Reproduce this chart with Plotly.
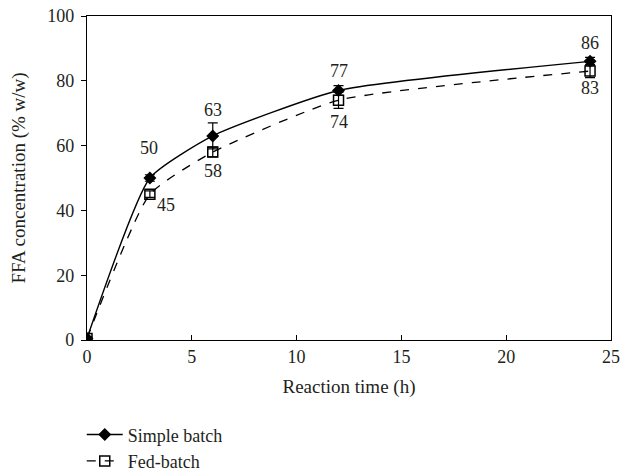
import plotly.graph_objects as go

# Reaction time (h) and FFA concentration (% w/w)
time_h = [0, 3, 6, 12, 24]
simple_batch = [0.5, 50, 63, 77, 86]
simple_err = [0.5, 1.0, 4.0, 1.5, 1.2]
fed_batch = [0.5, 45, 58, 74, 83]
fed_err = [0.5, 1.0, 1.5, 2.5, 2.0]

simple_labels = ["", "50", "63", "77", "86"]
fed_labels = ["", "45", "58", "74", "83"]

# pixel offsets of the value labels from their points (x, y)
simple_offsets = [(0, 0), (-1, 30), (0, 26), (0, 20), (0, 18)]
fed_offsets = [(0, 0), (16, -11), (0, -19), (0, -22), (0, -17)]

FONT = "Liberation Serif"
INK = "#231f20"
FS = 18

fig = go.Figure()

fig.add_trace(go.Scatter(
    x=time_h, y=simple_batch, name="Simple batch", mode="lines+markers",
    line=dict(color="black", width=1.4, shape="spline", smoothing=0.5),
    marker=dict(symbol="diamond", size=10, color="black"),
    error_y=dict(type="data", array=simple_err, color="black", thickness=1.2, width=5),
))
fig.add_trace(go.Scatter(
    x=time_h, y=fed_batch, name="Fed-batch", mode="lines+markers",
    line=dict(color="black", width=1.3, dash="dash", shape="spline", smoothing=0.5),
    marker=dict(symbol="square-open", size=10, color="black", line=dict(width=1.5)),
    error_y=dict(type="data", array=fed_err, color="black", thickness=1.2, width=5),
))

# value labels: simple batch above, fed-batch below
for labels, values, offsets in ((simple_labels, simple_batch, simple_offsets),
                                (fed_labels, fed_batch, fed_offsets)):
    for x, y, t, (dx, dy) in zip(time_h, values, labels, offsets):
        if not t:
            continue
        fig.add_annotation(x=x, y=y, text=t, showarrow=False,
                           yanchor="middle", xanchor="center",
                           xshift=dx, yshift=dy,
                           font=dict(family=FONT, size=FS, color=INK))

fig.update_layout(
    width=620, height=471,
    margin=dict(l=87, r=9, t=16, b=131, autoexpand=False),
    paper_bgcolor="white", plot_bgcolor="white",
    font=dict(family=FONT, size=FS, color=INK),
    showlegend=True,
    legend=dict(x=-0.01, y=0.116, xanchor="left", yanchor="top", yref="container",
                font=dict(family=FONT, size=FS, color=INK),
                bgcolor="rgba(0,0,0,0)", tracegroupgap=0, itemwidth=36),
    xaxis=dict(range=[0, 25], tickvals=[0, 5, 10, 15, 20, 25],
               showgrid=False, zeroline=False, showline=True, mirror=True,
               linecolor="black", linewidth=1.2, ticks="inside", ticklen=5,
               tickcolor="black", ticklabeloverflow="allow",
               title=dict(text="Reaction time (h)", standoff=13,
                          font=dict(family=FONT, size=19, color=INK))),
    yaxis=dict(range=[0, 100], tickvals=[0, 20, 40, 60, 80, 100],
               showgrid=False, zeroline=False, showline=True, mirror=True,
               linecolor="black", linewidth=1.2, ticks="outside", ticklen=5,
               tickcolor="black", ticklabelstandoff=3,
               title=dict(text="FFA concentration (% w/w)", standoff=16,
                          font=dict(family=FONT, size=19, color=INK))),
)

fig.write_html("out.html")
